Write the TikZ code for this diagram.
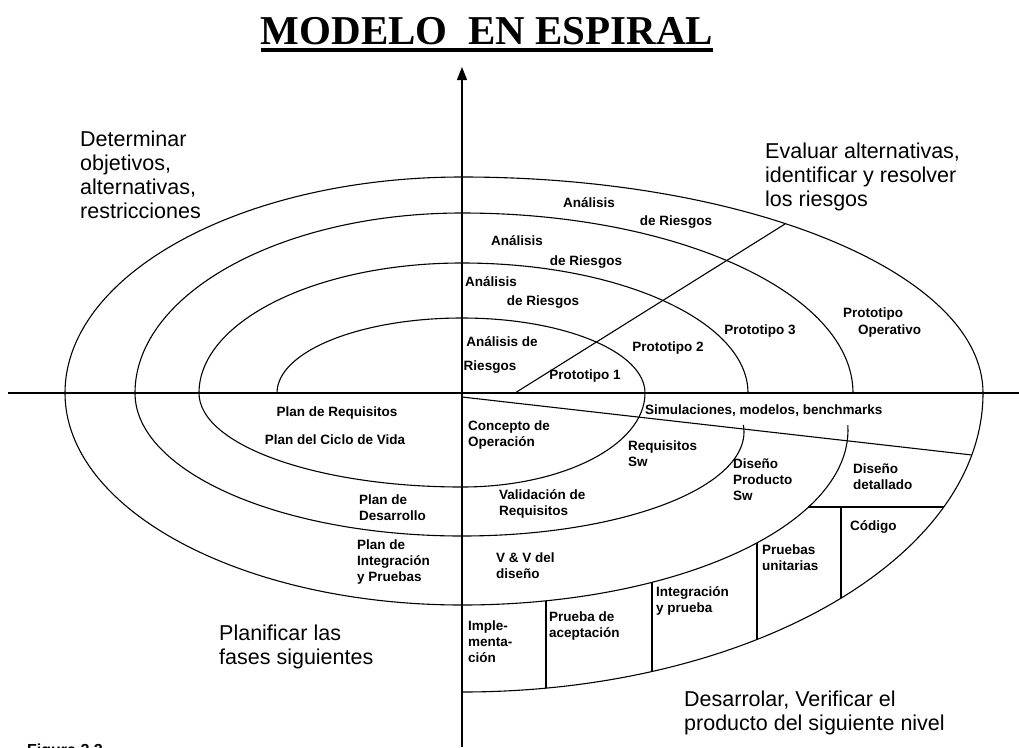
\documentclass[tikz,border=0pt]{standalone}
\usepackage{fontspec}
\setmainfont{Liberation Sans}
\newfontfamily\serifa{Liberation Serif}
\usetikzlibrary{arrows.meta}
\tikzset{
  curva/.style={line width=1.1pt},
  eje/.style={line width=1.4pt},
  fase/.style={font=\fontsize{21.5}{24}\selectfont, align=left, inner sep=0pt, anchor=west},
  etiq/.style={font=\fontsize{13.5}{16}\selectfont\bfseries, align=left, inner sep=0pt, anchor=west},
  etiqc/.style={etiq, anchor=center}
}
\begin{document}
\begin{tikzpicture}[x=1pt,y=-1pt]
  \useasboundingbox (0,0) rectangle (1019,747);
  % titulo
  \node[font=\serifa\bfseries\fontsize{41}{41}\selectfont, inner sep=0pt] (titulo) at (487,31) {MODELO\ \ EN ESPIRAL};
  \draw[line width=4pt] ([yshift=-5pt]titulo.south west) -- ([yshift=-5pt]titulo.south east);
  % ejes
  \draw[eje] (8,393) -- (1019,393);
  \draw[eje, -{Triangle[length=13pt,width=10pt]}] (462,747) -- (462,67);
  % espiral
  \draw[curva] (277,393) arc[start angle=180, end angle=90, x radius=185pt, y radius=75pt];
  \draw[curva] (462,318) arc[start angle=90, end angle=0, x radius=183pt, y radius=75pt];
  \draw[curva] (645,393) arc[start angle=0, end angle=-90, x radius=183pt, y radius=94pt];
  \draw[curva] (462,487) arc[start angle=-90, end angle=-180, x radius=263pt, y radius=94pt];
  \draw[curva] (199,393) arc[start angle=180, end angle=90, x radius=263pt, y radius=130pt];
  \draw[curva] (462,263) arc[start angle=90, end angle=0, x radius=286pt, y radius=130pt];
  \draw[curva] (462,432) ++(3.9:282pt and 104pt) arc[start angle=3.9, end angle=-90, x radius=282pt, y radius=104pt];
  \draw[curva] (462,536) arc[start angle=-90, end angle=-180, x radius=327pt, y radius=143pt];
  \draw[curva] (135,393) arc[start angle=180, end angle=90, x radius=327pt, y radius=180pt];
  \draw[curva] (462,213) arc[start angle=90, end angle=0, x radius=391pt, y radius=180pt];
  \draw[curva] (462,430) ++(1.6:386pt and 175pt) arc[start angle=1.6, end angle=-90, x radius=386pt, y radius=175pt];
  \draw[curva] (462,605) arc[start angle=-90, end angle=-180, x radius=397pt, y radius=212pt];
  \draw[curva] (65,393) arc[start angle=180, end angle=90, x radius=397pt, y radius=216pt];
  \draw[curva] (462,177) arc[start angle=90, end angle=0, x radius=521pt, y radius=216pt];
  \draw[curva] (983,393) arc[start angle=0, end angle=-90, x radius=521pt, y radius=299pt];
  % divisiones
  \draw[curva] (515,393) -- (785,224);
  \draw[curva] (462,397) -- (972,455);
  \draw[curva] (808,507) -- (944,507);
  \foreach \x/\ya/\yb in {546/601/688, 652/582/671, 757/543/639, 841/507/598}
    \draw[curva] (\x,\ya) -- (\x,\yb);
  % cuadrantes
  \node[fase] (det) at (80,175) {Determinar\\objetivos,\\alternativas,\\restricciones};
  \node[fase] (eva) at (765,176.5) {Evaluar alternativas,\\identificar y resolver\\los riesgos};
  \node[fase] (pla) at (219,647) {Planificar las\\fases siguientes};
  \node[fase] (des) at (684,712.5) {Desarrolar, Verificar el\\producto del siguiente nivel};
  % riesgos y prototipos
  \node[etiqc] (an1) at (589,203) {Análisis};
  \node[etiqc] (dr1) at (676,222) {de Riesgos};
  \node[etiqc] (an2) at (517,241) {Análisis};
  \node[etiqc] (dr2) at (586,262) {de Riesgos};
  \node[etiqc] (an3) at (491,282) {Análisis};
  \node[etiqc] (dr3) at (543,302) {de Riesgos};
  \node[etiqc] (an4) at (502,342) {Análisis de};
  \node[etiqc] (ri4) at (490,367) {Riesgos};
  \node[etiqc] (pr1) at (585,376) {Prototipo 1};
  \node[etiqc] (pr2) at (668,348) {Prototipo 2};
  \node[etiqc] (pr3) at (760,331) {Prototipo 3};
  \node[etiq] (pro) at (843,322.5) {Prototipo\\[1pt]\hspace*{15pt}Operativo};
  % desarrollo
  \node[etiq] (sim) at (645,411) {Simulaciones, modelos, benchmarks};
  \node[etiq] (con) at (468,435.5) {Concepto de\\Operación};
  \node[etiq] (req) at (628,454) {Requisitos\\Sw};
  \node[etiq] (dps) at (733,480) {Diseño\\Producto\\Sw};
  \node[etiq] (val) at (499,503.5) {Validación de\\Requisitos};
  \node[etiq] (vvd) at (496,566) {V \& V del\\diseño};
  \node[etiq] (imp) at (468,642) {Imple-\\menta-\\ción};
  \node[etiq] (pac) at (549,625.5) {Prueba de\\aceptación};
  \node[etiq] (ipr) at (656,600.5) {Integración\\y prueba};
  \node[etiq] (pun) at (762,557.5) {Pruebas\\unitarias};
  \node[etiq] (cod) at (850,527) {Código};
  \node[etiq] (ddt) at (853,476.5) {Diseño\\detallado};
  % planes
  \node[etiqc] (preq) at (337,413) {Plan de Requisitos};
  \node[etiqc] (pcv) at (335,440) {Plan del Ciclo de Vida};
  \node[etiq] (pdes) at (359,508) {Plan de\\Desarrollo};
  \node[etiq] (pint) at (357,562) {Plan de\\Integración\\y Pruebas};
  % pie
  \node[font=\bfseries\fontsize{16}{16}\selectfont, anchor=north west, inner sep=0pt] (fig) at (27,744) {Figura 2.2};
\end{tikzpicture}
\end{document}
